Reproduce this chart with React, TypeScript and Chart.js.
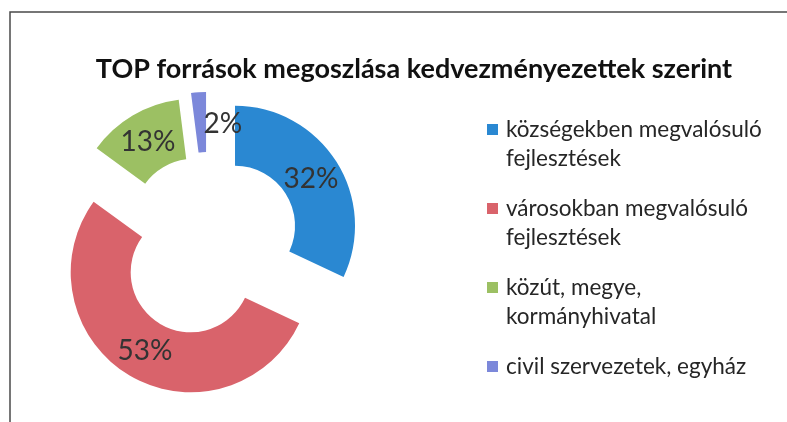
import React, { useEffect, useRef } from 'react';
import { Chart, registerables } from 'chart.js';

Chart.register(...registerables);

const TITLE = 'TOP források megoszlása kedvezményezettek szerint';
const categories: string[][] = [
  ['községekben megvalósuló', 'fejlesztések'],
  ['városokban megvalósuló', 'fejlesztések'],
  ['közút, megye,', 'kormányhivatal'],
  ['civil szervezetek, egyház'],
];
const shares = [32, 53, 13, 2];
const percentLabels = ['32%', '53%', '13%', '2%'];
const colors = ['#2a88d2', '#d9636b', '#9cc063', '#7c88da'];
const explode = [32, 34, 28, 31];

const FONT = 'Lato, "Open Sans", sans-serif';

const explodePlugin = {
  id: 'explodeLabels',
  beforeDatasetDraw(chart: any, args: any) {
    const meta = args.meta;
    meta.data.forEach((arc: any, i: number) => {
      const mid = (arc.startAngle + arc.endAngle) / 2;
      arc._ox = arc.x;
      arc._oy = arc.y;
      arc.x += Math.cos(mid) * explode[i];
      arc.y += Math.sin(mid) * explode[i];
    });
  },
  afterDatasetDraw(chart: any, args: any) {
    const ctx = chart.ctx;
    const meta = args.meta;
    const total = shares.reduce((a, b) => a + b, 0);
    ctx.save();
    ctx.font = `28px ${FONT}`;
    ctx.fillStyle = '#333333';
    ctx.textBaseline = 'middle';
    meta.data.forEach((arc: any, i: number) => {
      const mid = (arc.startAngle + arc.endAngle) / 2;
      const r = (arc.innerRadius + arc.outerRadius) / 2;
      const x = arc.x + Math.cos(mid) * r;
      const y = arc.y + Math.sin(mid) * r;
      if (shares[i] / total < 0.05) {
        ctx.textAlign = 'left';
        ctx.fillText(percentLabels[i], x + 3, y + 2);
      } else {
        ctx.textAlign = 'center';
        ctx.fillText(percentLabels[i], x, y + 1);
      }
    });
    ctx.restore();
    meta.data.forEach((arc: any) => {
      arc.x = arc._ox;
      arc.y = arc._oy;
    });
  },
  afterDraw(chart: any) {
    const ctx = chart.ctx;
    ctx.save();
    // frame
    ctx.strokeStyle = '#4a4a4a';
    ctx.lineWidth = 1.5;
    ctx.beginPath();
    ctx.moveTo(10, 422);
    ctx.lineTo(10, 12);
    ctx.lineTo(787, 12);
    ctx.stroke();
    // title
    ctx.fillStyle = '#111111';
    ctx.font = `bold 27px ${FONT}`;
    ctx.textAlign = 'center';
    ctx.textBaseline = 'alphabetic';
    ctx.fillText(TITLE, 414, 78);
    // legend
    ctx.font = `22.5px ${FONT}`;
    ctx.textAlign = 'left';
    let y = 129;
    categories.forEach((lines, i) => {
      ctx.fillStyle = colors[i];
      ctx.fillRect(487, y - 5, 11, 11);
      ctx.fillStyle = '#262626';
      lines.forEach((line, k) => {
        ctx.fillText(line, 506, y + k * 29 + 8);
      });
      y += lines.length * 29 + 21;
    });
    ctx.restore();
  },
};

export default function App() {
  const canvasRef = useRef<HTMLCanvasElement | null>(null);
  useEffect(() => {
    if (!canvasRef.current) return;
    const chart = new Chart(canvasRef.current, {
      type: 'doughnut',
      data: {
        labels: categories.map((l) => l.join(' ')),
        datasets: [
          {
            data: shares,
            backgroundColor: colors,
            borderWidth: 0,
          },
        ],
      },
      options: {
        animation: false,
        responsive: false,
        radius: 120,
        cutout: '50%',
        layout: { padding: { left: 58, right: 429, top: 93, bottom: 29 } },
        plugins: {
          legend: { display: false },
          title: { display: false },
          tooltip: { enabled: false },
        },
      },
      plugins: [explodePlugin],
    });
    return () => chart.destroy();
  }, []);
  return (
    <div style={{ position: 'absolute', left: 0, top: 0, width: 787, height: 422, background: '#ffffff' }}>
      <canvas ref={canvasRef} width={787} height={422} style={{ display: 'block' }} />
    </div>
  );
}
